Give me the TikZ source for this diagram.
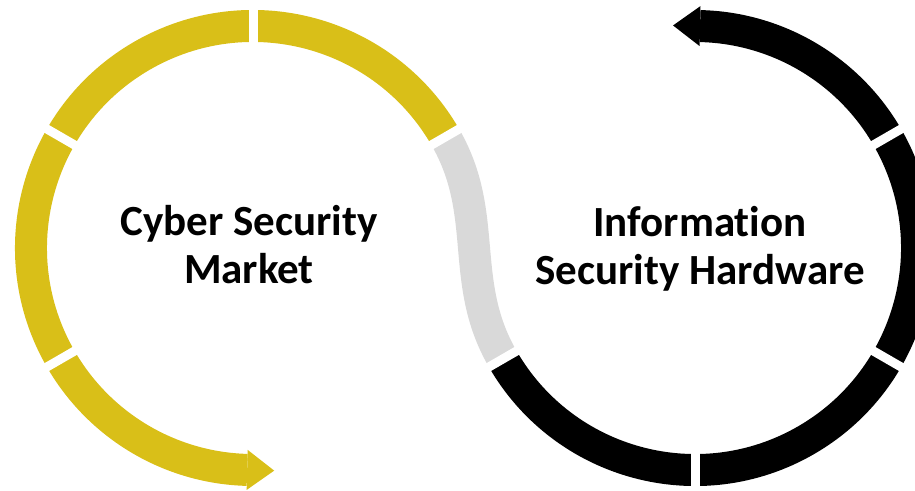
\documentclass[tikz,border=0pt]{standalone}
\usepackage{fontspec}
\setmainfont[Ligatures=NoCommon]{Carlito}
\usetikzlibrary{calc}
\definecolor{cyberyellow}{RGB}{217,191,24}
\definecolor{linkgray}{RGB}{217,217,217}
\tikzset{
  ring/.style={line width=32pt},
  gapline/.style={white, line width=9pt},
  ringtext/.style={font=\bfseries\fontsize{43}{48}\selectfont, align=center, inner sep=0pt}
}
\begin{document}
\begin{tikzpicture}[x=1pt,y=1pt]
\useasboundingbox (0,0) rectangle (915,490);
\clip (0,0) rectangle (915,490);
\coordinate (cyber) at (253,242);
\coordinate (infosec) at (695,242);
\coordinate (linkA) at ($(infosec)+(210:222)$);
\coordinate (linkB) at ($(cyber)+(30:222)$);
% left ring
\draw[ring, cyberyellow] (linkB) arc[start angle=30, end angle=268.5, radius=222];
\fill[cyberyellow] ($(cyber)+(268.5:202)$) -- ($(cyber)+(268.5:222)+(358.5:27)$) -- ($(cyber)+(268.5:242)$) -- cycle;
% right ring
\draw[ring, black] (linkA) arc[start angle=210, end angle=448.7, radius=222];
\fill[black] ($(infosec)+(88.7:202)$) -- ($(infosec)+(88.7:222)+(178.7:27)$) -- ($(infosec)+(88.7:242)$) -- cycle;
% link between the rings
\draw[ring, linkgray] (linkA) to[out=120, in=-60] (linkB);
% gaps
\foreach \a in {30,90,150,210} \draw[gapline] (cyber) ++(\a:200) -- ++(\a:44);
\foreach \a in {30,210,270,330} \draw[gapline] (infosec) ++(\a:200) -- ++(\a:44);
\node[ringtext] (cybertext) at (249,245.5) {Cyber Security\\Market};
\node[ringtext] (infotext) at (700,241.5) {Information\\Security Hardware};
\end{tikzpicture}
\end{document}
